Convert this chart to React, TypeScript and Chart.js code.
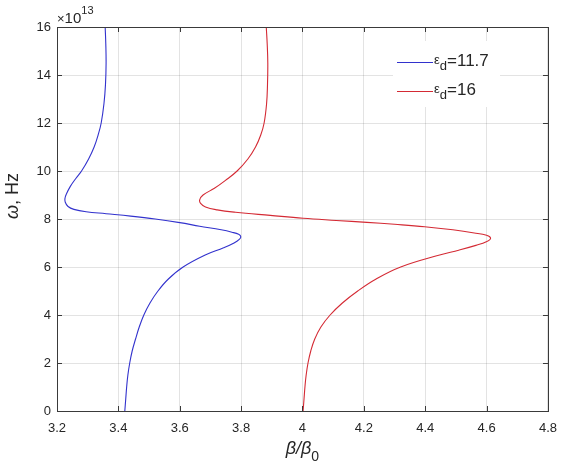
import { useEffect, useRef } from "react";
import { Chart, registerables } from "chart.js";

Chart.register(...registerables);

// ---- data (omega in units of 1e13 Hz) ----
const betaTicks = [3.2, 3.4, 3.6, 3.8, 4.0, 4.2, 4.4, 4.6, 4.8];
const omegaTicks = [0, 2, 4, 6, 8, 10, 12, 14, 16];
const omegaExponent = "13";
const seriesEps = ["11.7", "16"];

const blueBeta = [
  3.421, 3.424, 3.427, 3.431, 3.437, 3.445, 3.456, 3.468, 3.483, 3.503, 3.529,
  3.563, 3.611, 3.683, 3.743, 3.777, 3.794, 3.799, 3.792, 3.77, 3.735, 3.665,
  3.6, 3.52, 3.44, 3.36, 3.295, 3.255, 3.236, 3.227, 3.226, 3.231, 3.243, 3.262,
  3.28, 3.303, 3.321, 3.334, 3.344, 3.353, 3.358, 3.36, 3.359, 3.357,
];
const blueOmega = [
  0, 0.5, 1.0, 1.5, 2.0, 2.5, 3.0, 3.5, 4.0, 4.5, 5.0, 5.5, 6.0, 6.5, 6.8, 7.0,
  7.15, 7.26, 7.36, 7.45, 7.55, 7.7, 7.85, 8.0, 8.12, 8.22, 8.3, 8.4, 8.52, 8.7,
  8.86, 9.05, 9.35, 9.7, 10.0, 10.5, 11.0, 11.5, 12.0, 12.8, 13.6, 14.5, 15.3,
  16.0,
];

const redBeta = [
  4.002, 4.005, 4.008, 4.012, 4.018, 4.027, 4.04, 4.06, 4.09, 4.13, 4.18, 4.24,
  4.32, 4.447, 4.509, 4.565, 4.599, 4.613, 4.6, 4.56, 4.49, 4.398, 4.3, 4.21,
  4.11, 4.002, 3.895, 3.782, 3.722, 3.684, 3.668, 3.665, 3.676, 3.713, 3.748,
  3.787, 3.822, 3.847, 3.864, 3.875, 3.883, 3.886, 3.887, 3.885, 3.882,
];
const redOmega = [
  0, 0.5, 1.0, 1.5, 2.0, 2.5, 3.0, 3.5, 4.0, 4.5, 5.0, 5.5, 6.0, 6.5, 6.7, 6.9,
  7.05, 7.2, 7.32, 7.42, 7.55, 7.68, 7.78, 7.86, 7.94, 8.03, 8.15, 8.28, 8.38,
  8.5, 8.65, 8.8, 9.0, 9.28, 9.6, 10.0, 10.5, 11.0, 11.5, 12.0, 12.8, 13.6, 14.5,
  15.3, 16.0,
];

const BLUE = "rgb(50,50,205)";
const RED = "rgb(212,42,52)";
const AXIS = "#3a3a3a";
const TEXT = "#262626";
const FONT = '"Liberation Sans", Arial, sans-serif';

type Run = { t: string; font: string; dy?: number };

function runsWidth(ctx: CanvasRenderingContext2D, runs: Run[]) {
  let w = 0;
  for (const r of runs) {
    ctx.font = r.font;
    w += ctx.measureText(r.t).width;
  }
  return w;
}

function drawRuns(ctx: CanvasRenderingContext2D, x: number, y: number, runs: Run[]) {
  let cx = x;
  for (const r of runs) {
    ctx.font = r.font;
    ctx.fillText(r.t, cx, y + (r.dy || 0));
    cx += ctx.measureText(r.t).width;
  }
}

const decorPlugin = {
  id: "decor",
  afterDatasetsDraw(chart: any) {
    const ctx: CanvasRenderingContext2D = chart.ctx;
    const { left, right, top, bottom } = chart.chartArea;
    const xs = chart.scales.x;
    const ys = chart.scales.y;
    ctx.save();
    // box
    ctx.strokeStyle = AXIS;
    ctx.lineWidth = 1;
    ctx.strokeRect(Math.round(left) + 0.5, Math.round(top) + 0.5, Math.round(right - left), Math.round(bottom - top));
    // inward ticks
    const tl = 5;
    ctx.beginPath();
    for (const v of betaTicks) {
      const px = Math.round(xs.getPixelForValue(v)) + 0.5;
      ctx.moveTo(px, bottom);
      ctx.lineTo(px, bottom - tl);
      ctx.moveTo(px, top);
      ctx.lineTo(px, top + tl);
    }
    for (const v of omegaTicks) {
      const py = Math.round(ys.getPixelForValue(v)) + 0.5;
      ctx.moveTo(left, py);
      ctx.lineTo(left + tl, py);
      ctx.moveTo(right, py);
      ctx.lineTo(right - tl, py);
    }
    ctx.stroke();

    // legend
    ctx.fillStyle = "#ffffff";
    ctx.fillRect(393, 41, 107, 66);
    const rows = [
      { color: BLUE, eps: seriesEps[0], y: 62 },
      { color: RED, eps: seriesEps[1], y: 91 },
    ];
    ctx.textBaseline = "alphabetic";
    ctx.textAlign = "left";
    for (const r of rows) {
      ctx.strokeStyle = r.color;
      ctx.lineWidth = 1;
      ctx.beginPath();
      ctx.moveTo(397, r.y + 0.5);
      ctx.lineTo(433, r.y + 0.5);
      ctx.stroke();
      ctx.fillStyle = TEXT;
      drawRuns(ctx, 434, r.y + 4, [
        { t: "\u03b5", font: `13px ${FONT}`, dy: -2 },
        { t: "d", font: `13px ${FONT}`, dy: 4 },
        { t: "=" + r.eps, font: `17px ${FONT}` },
      ]);
    }

    // exponent label
    ctx.fillStyle = TEXT;
    drawRuns(ctx, 57, 23, [
      { t: "\u00d7", font: `13px ${FONT}` },
      { t: "10", font: `15px ${FONT}` },
      { t: omegaExponent, font: `11px ${FONT}`, dy: -9 },
    ]);

    // x title
    const xRuns: Run[] = [
      { t: "\u03b2", font: `italic 18px ${FONT}` },
      { t: "/", font: `italic 18px ${FONT}` },
      { t: "\u03b2", font: `italic 18px ${FONT}` },
      { t: "0", font: `14px ${FONT}`, dy: 7 },
    ];
    const xw = runsWidth(ctx, xRuns);
    drawRuns(ctx, (left + right) / 2 - xw / 2, 454, xRuns);

    // y title
    const yRuns: Run[] = [
      { t: "\u03c9", font: `italic 18px ${FONT}` },
      { t: ", Hz", font: `18px ${FONT}` },
    ];
    const yw = runsWidth(ctx, yRuns);
    ctx.translate(18, 196);
    ctx.rotate(-Math.PI / 2);
    drawRuns(ctx, -yw / 2, 0, yRuns);
    ctx.restore();
  },
};

function toPoints(xs: number[], ys: number[]) {
  return xs.map((x, i) => ({ x, y: ys[i] }));
}

export default function App() {
  const ref = useRef<HTMLCanvasElement | null>(null);
  useEffect(() => {
    document.body.style.margin = "0";
    const canvas = ref.current;
    if (!canvas) return;
    const chart = new Chart(canvas, {
      type: "scatter",
      data: {
        datasets: [
          {
            label: "\u03b5d=" + seriesEps[0],
            data: toPoints(blueBeta, blueOmega),
            showLine: true,
            borderColor: BLUE,
            borderWidth: 1.1,
            pointRadius: 0,
            tension: 0.4,
          },
          {
            label: "\u03b5d=" + seriesEps[1],
            data: toPoints(redBeta, redOmega),
            showLine: true,
            borderColor: RED,
            borderWidth: 1.1,
            pointRadius: 0,
            tension: 0.4,
          },
        ],
      },
      options: {
        animation: false,
        responsive: false,
        devicePixelRatio: 1,
        layout: { padding: { top: 27, right: 12, left: 0, bottom: 0 } },
        plugins: { legend: { display: false }, tooltip: { enabled: false } },
        scales: {
          x: {
            type: "linear",
            min: 3.2,
            max: 4.8,
            afterBuildTicks: (s: any) => {
              s.ticks = betaTicks.map((v) => ({ value: v }));
            },
            afterFit: (s: any) => {
              s.height = 62;
            },
            ticks: {
              color: TEXT,
              font: { family: FONT, size: 13 },
              padding: 10,
              maxRotation: 0,
              callback: (v: any) => String(Math.round(Number(v) * 10) / 10),
            },
            grid: { color: "rgba(0,0,0,0.11)", drawTicks: false },
            border: { display: false },
          },
          y: {
            type: "linear",
            min: 0,
            max: 16,
            afterBuildTicks: (s: any) => {
              s.ticks = omegaTicks.map((v) => ({ value: v }));
            },
            afterFit: (s: any) => {
              s.width = 57;
            },
            ticks: {
              color: TEXT,
              font: { family: FONT, size: 13 },
              padding: 6,
              callback: (v: any) => String(v),
            },
            grid: { color: "rgba(0,0,0,0.11)", drawTicks: false },
            border: { display: false },
          },
        },
      },
      plugins: [decorPlugin],
    });
    return () => chart.destroy();
  }, []);
  return (
    <div style={{ width: 567, height: 473 }}>
      <canvas ref={ref} width={567} height={473} style={{ display: "block" }} />
    </div>
  );
}
